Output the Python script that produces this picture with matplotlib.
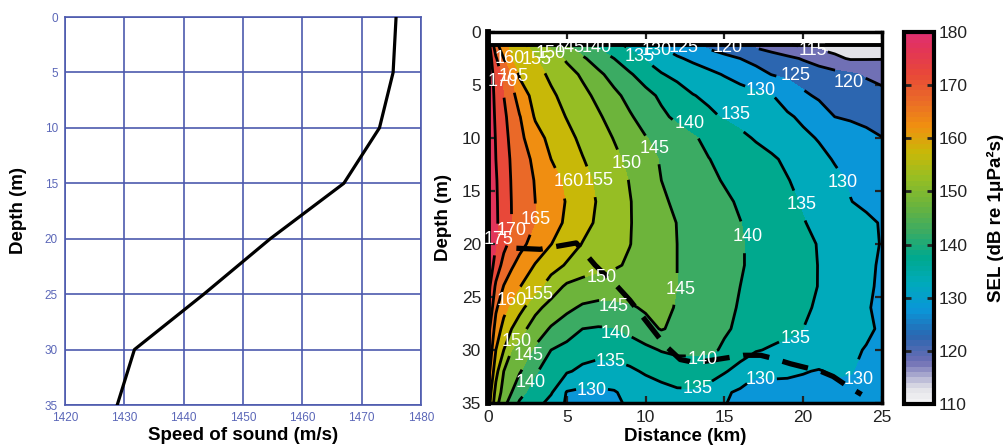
import numpy as np
import matplotlib
matplotlib.use("Agg")
import matplotlib.pyplot as plt
from matplotlib.colors import LinearSegmentedColormap, Normalize
from matplotlib.cm import ScalarMappable

plt.rcParams['font.family'] = ['Liberation Sans', 'DejaVu Sans']

# ---- sound-speed profile ----
profile_depth = [0, 5, 10, 15, 20, 25, 30, 35]
profile_speed = [1475.8, 1475.3, 1473.0, 1467.0, 1454.6, 1443.4, 1431.7, 1428.8]

# ---- SEL field (dB re 1 uPa^2 s) on a distance x depth grid ----
distance_km = [0, 0.5, 1, 1.5, 2, 3, 4, 5, 6, 7, 8, 9, 10, 11, 12, 13, 14,
               15, 16, 17, 18, 19, 20, 21, 22, 23, 24, 25]
depth_m = [1.2, 2.5, 4, 6, 8, 10, 12, 14, 16, 18, 20, 22, 24, 26, 28, 30, 32, 34, 35]
sel_db = [
    [177.5, 166.7, 161.0, 158.6, 156.8, 152.9, 148.9, 145.4, 142.0, 138.9, 136.3, 133.9, 131.6, 129.4, 127.4, 125.4, 123.7, 122.0, 120.3, 118.8, 117.2, 115.3, 114.2, 113.6, 113.2, 112.8, 112.5, 112.0],
    [178.5, 170.6, 165.0, 159.7, 158.2, 155.3, 152.4, 149.3, 145.7, 142.8, 140.0, 137.2, 134.6, 132.6, 130.6, 129.1, 127.7, 126.4, 125.0, 123.7, 122.4, 121.1, 119.6, 117.8, 115.9, 114.6, 114.7, 114.8],
    [179.0, 172.6, 168.5, 164.3, 159.4, 156.7, 154.1, 151.8, 149.3, 146.0, 143.2, 140.5, 137.9, 135.3, 133.8, 132.4, 131.1, 129.7, 128.1, 126.5, 124.9, 124.1, 123.2, 122.4, 121.5, 120.7, 119.5, 118.5],
    [179.0, 173.6, 170.0, 166.7, 162.7, 158.3, 155.8, 153.5, 151.3, 148.9, 146.1, 143.6, 141.4, 139.2, 137.2, 135.2, 134.1, 133.1, 132.2, 131.2, 130.2, 128.1, 125.7, 124.4, 123.7, 123.0, 122.1, 121.3],
    [179.0, 174.2, 171.0, 168.1, 165.3, 159.5, 157.1, 154.8, 152.7, 150.6, 148.2, 145.5, 143.2, 140.9, 139.1, 137.5, 135.9, 134.6, 133.6, 132.6, 131.6, 130.6, 129.2, 127.1, 125.0, 124.4, 123.8, 123.2],
    [179.0, 174.7, 171.6, 168.8, 166.3, 161.9, 158.7, 156.3, 154.0, 151.9, 149.8, 147.5, 145.2, 143.6, 142.0, 140.5, 139.0, 137.5, 136.0, 134.6, 133.4, 132.1, 130.9, 129.7, 128.5, 127.4, 126.2, 125.1],
    [179.0, 175.0, 172.1, 169.4, 167.6, 163.8, 160.0, 157.6, 155.2, 153.1, 151.0, 148.9, 146.6, 144.6, 143.1, 141.6, 140.1, 139.0, 137.8, 136.7, 135.6, 134.2, 132.7, 131.1, 129.7, 128.6, 127.6, 126.5],
    [179.0, 175.4, 172.4, 169.7, 168.0, 164.7, 161.8, 159.0, 156.5, 154.1, 152.0, 149.8, 147.4, 145.0, 143.6, 142.3, 140.9, 139.7, 138.6, 137.4, 136.3, 135.2, 133.8, 132.4, 130.9, 129.6, 128.5, 127.5],
    [179.0, 175.6, 172.6, 169.9, 168.3, 165.0, 162.4, 159.7, 157.1, 154.6, 152.4, 150.2, 148.0, 145.7, 144.2, 143.0, 141.9, 140.7, 139.5, 138.3, 137.1, 135.9, 134.6, 133.1, 131.6, 130.1, 129.2, 128.5],
    [179.0, 175.7, 172.8, 170.0, 168.3, 164.9, 162.0, 159.2, 156.6, 154.2, 152.2, 150.2, 148.4, 146.6, 144.9, 143.7, 142.5, 141.3, 140.1, 138.9, 137.7, 136.5, 135.2, 134.1, 133.0, 131.9, 130.8, 129.7],
    [179.0, 175.2, 171.3, 168.6, 166.5, 163.1, 160.1, 157.4, 154.8, 153.2, 151.6, 150.1, 148.4, 146.7, 145.0, 143.8, 142.7, 141.5, 140.3, 139.2, 138.1, 137.0, 135.9, 134.8, 133.5, 132.2, 131.0, 129.8],
    [179.0, 172.9, 168.3, 165.6, 163.5, 159.7, 157.1, 154.5, 152.3, 151.2, 150.6, 149.4, 147.9, 146.5, 145.0, 143.8, 142.7, 141.5, 140.3, 139.2, 138.2, 137.1, 136.0, 134.9, 133.5, 132.1, 130.8, 129.5],
    [177.0, 169.1, 164.8, 162.5, 160.2, 157.1, 152.5, 149.2, 148.3, 147.8, 147.6, 147.3, 146.9, 146.2, 145.0, 143.8, 142.5, 141.3, 140.0, 139.0, 138.0, 136.9, 135.9, 134.9, 133.5, 132.1, 130.7, 129.3],
    [175.5, 165.8, 161.5, 158.8, 156.7, 151.3, 148.3, 146.1, 144.3, 143.6, 143.7, 144.4, 145.6, 146.0, 144.7, 143.5, 142.2, 140.9, 139.7, 138.7, 137.7, 136.6, 135.6, 134.5, 133.1, 131.8, 130.4, 129.0],
    [172.0, 163.0, 158.3, 155.0, 151.9, 147.7, 144.5, 142.3, 140.0, 139.6, 139.8, 141.4, 143.4, 145.3, 144.0, 142.9, 141.7, 140.5, 139.3, 138.3, 137.2, 136.1, 135.0, 133.9, 132.8, 131.7, 130.6, 129.5],
    [170.0, 160.0, 155.0, 150.0, 148.1, 144.2, 140.0, 138.5, 137.0, 136.3, 136.4, 137.3, 138.8, 140.3, 141.2, 141.3, 140.9, 139.4, 137.4, 135.4, 134.4, 133.6, 132.9, 132.1, 131.4, 130.6, 129.8, 129.0],
    [167.5, 156.7, 150.0, 147.7, 145.5, 140.5, 137.9, 135.5, 134.0, 133.4, 133.6, 134.3, 135.5, 136.3, 136.8, 136.7, 136.3, 135.5, 133.1, 130.3, 130.6, 130.5, 130.2, 129.8, 130.5, 130.3, 128.8, 128.3],
    [164.0, 153.3, 148.1, 145.0, 141.4, 138.0, 135.5, 129.7, 129.0, 129.1, 129.6, 131.5, 132.8, 133.8, 134.5, 134.6, 134.0, 130.6, 129.3, 129.2, 129.0, 129.0, 128.8, 129.0, 128.8, 128.5, 128.3, 128.2],
    [163.0, 151.7, 146.7, 142.5, 139.5, 137.0, 133.3, 129.4, 128.6, 128.6, 129.3, 130.6, 132.0, 133.2, 133.8, 133.9, 133.3, 130.2, 129.0, 128.8, 128.7, 128.7, 128.5, 128.7, 128.4, 128.2, 128.0, 128.0],
]

fill_levels = list(range(110, 181, 5))
line_levels = list(range(115, 180, 5))
cbar_ticks = list(range(110, 181, 10))

# dashed ray path
ray_distance = [1.8, 3.3, 5.6, 6.8, 8.2, 9.0, 10.1, 11.2, 12.2, 13.2, 14.9, 16.2,
                17.3, 18.1, 19.2, 20.0, 21.1, 21.9, 22.8, 23.7]
ray_depth = [20.4, 20.5, 19.9, 22.0, 24.0, 25.3, 27.4, 29.5, 30.9, 31.2, 30.8, 30.5,
             30.5, 30.8, 31.3, 31.6, 32.0, 32.5, 33.4, 34.2]

# contour label anchor spots (distance, depth) grouped by level
label_spots = {
    115: [(20.6, 1.7)],
    120: [(15.2, 1.5), (22.9, 4.8)],
    125: [(12.4, 1.5), (19.5, 4.1)],
    130: [(10.7, 1.7), (17.3, 5.5), (22.5, 14.2), (6.6, 33.8), (17.3, 32.8), (23.5, 32.8)],
    135: [(9.6, 2.3), (15.7, 7.8), (19.9, 16.3), (7.8, 31.1), (13.3, 33.6), (19.5, 28.9)],
    140: [(6.9, 1.5), (12.8, 8.6), (16.5, 19.3), (8.1, 28.4), (2.7, 33.1), (13.6, 30.9)],
    145: [(5.2, 1.5), (10.6, 11.0), (12.2, 24.3), (8.0, 25.9), (2.6, 30.5)],
    150: [(4.0, 2.0), (8.8, 12.4), (7.2, 23.2), (1.8, 29.2)],
    155: [(3.1, 2.6), (7.0, 14.0), (3.2, 24.8)],
    160: [(1.4, 2.5), (5.1, 14.1), (1.5, 25.3)],
    165: [(1.6, 4.2), (3.0, 17.7)],
    170: [(0.9, 4.7), (1.5, 18.7)],
    175: [(0.7, 19.6)],
}

# colour ramp anchors
ramp_values = [110, 112.5, 117.5, 122.5, 127.5, 132.5, 137.5, 142.5, 147.5,
               152.5, 157.5, 162.5, 167.5, 172.5, 177.5, 180]
ramp_colors = ['#f2f2f4', '#e2e2e8', '#6e6eb4', '#2a66b0', '#0a96d8', '#00aabb',
               '#00a98e', '#3cab62', '#6cb43c', '#96be24', '#c8b808', '#f09010',
               '#ea6a28', '#e84838', '#e2345a', '#e0306e']
vmin, vmax = 110, 180
ramp = LinearSegmentedColormap.from_list(
    'sel', [((v - vmin) / (vmax - vmin), c) for v, c in zip(ramp_values, ramp_colors)])
norm = Normalize(vmin, vmax)

fig = plt.figure(figsize=(10.04, 4.46), dpi=100)
W, H = 1004, 446

# ---- left: sound speed profile ----
grid_blue = '#4d5aae'
ax1 = fig.add_axes([65 / W, 1 - 405 / H, 356 / W, 388 / H])
ax1.plot(profile_speed, profile_depth, color='k', lw=2.3, zorder=3)
ax1.set_xlim(1420, 1480)
ax1.set_ylim(35, 0)
ax1.set_xticks(range(1420, 1481, 10))
ax1.set_yticks(range(0, 36, 5))
ax1.grid(True, color=grid_blue, lw=1.2)
for s in ax1.spines.values():
    s.set_color(grid_blue)
    s.set_linewidth(1.2)
ax1.tick_params(length=0, labelcolor='#5b67b8', labelsize=8.5, pad=5)
ax1.set_xlabel('Speed of sound (m/s)', fontsize=13.5, fontweight='bold', labelpad=2)
ax1.set_ylabel('Depth (m)', fontsize=13.5, fontweight='bold', labelpad=13)

# ---- right: SEL contour map ----
ax2 = fig.add_axes([488 / W, 1 - 403 / H, 394 / W, 371 / H])
X, Z = np.meshgrid(distance_km, depth_m)
S = np.array(sel_db)
ax2.contourf(X, Z, S, levels=fill_levels, cmap=ramp, norm=norm)
ax2.set_xlim(0, 25)
ax2.set_ylim(35, 0)

for lvl in line_levels:
    cs = ax2.contour(X, Z, S, levels=[lvl], colors='k', linewidths=2.0)
    spots = label_spots.get(lvl)
    if spots:
        cs.clabel(manual=spots, inline=True, inline_spacing=1,
                  fmt='%d', colors='white', fontsize=13)
        # horizontal labels centred on their anchor spots
        for t, spot in zip(cs.labelTexts, spots):
            t.set_rotation(0)
            t.set_position(spot)
            t.set_zorder(9)
            t.set_clip_on(False)

ax2.axhline(depth_m[0], color='k', lw=2.8)
ax2.plot(ray_distance, ray_depth, color='k', lw=3.8,
         linestyle=(0, (5, 2.6)), solid_capstyle='butt', zorder=4)

ax2.set_xticks(range(0, 26, 5))
ax2.set_yticks(range(0, 36, 5))
ax2.tick_params(direction='in', top=True, right=True, length=5, width=1.6,
                labelsize=12.5, pad=5, colors='#222222')
for s in ax2.spines.values():
    s.set_linewidth(2.5)
    s.set_zorder(7)
ax2.spines['left'].set_linewidth(4.2)
ax2.set_xlabel('Distance (km)', fontsize=13.5, fontweight='bold', labelpad=2)
ax2.set_ylabel('Depth (m)', fontsize=13.5, fontweight='bold', labelpad=7)

# ---- colour bar ----
cax = fig.add_axes([904 / W, 1 - 404 / H, 30 / W, 372 / H])
sm = ScalarMappable(norm=norm, cmap=ramp.resampled(70))
cb = fig.colorbar(sm, cax=cax, ticks=cbar_ticks)
cb.outline.set_linewidth(3)
cax.tick_params(direction='in', left=True, right=True, length=5, width=2,
                labelsize=12.5, pad=3, colors='#222222')
cb.set_label('SEL (dB re 1μPa²s)', fontsize=13.5, fontweight='bold', labelpad=14)

fig.savefig('out.png', dpi=100)
